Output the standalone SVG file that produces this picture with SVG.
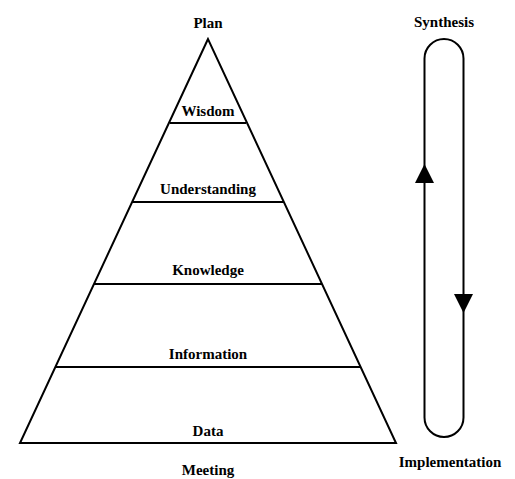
<svg xmlns="http://www.w3.org/2000/svg" width="515" height="479" viewBox="0 0 515 479">
<style>
text{font-family:"Liberation Serif","Times New Roman",serif;font-weight:bold;font-size:15px;fill:#000;text-anchor:middle}
.ln{stroke:#000;stroke-width:2;fill:none}
</style>
<rect width="515" height="479" fill="#fff"/>
<g id="pyramid">
<polygon class="ln" points="208,39 20,443 396,443"/>
</g>
<g id="connectors">
<line class="ln" x1="170" y1="123" x2="246" y2="123"/>
<line class="ln" x1="132" y1="202" x2="284" y2="202"/>
<line class="ln" x1="94" y1="284" x2="322" y2="284"/>
<line class="ln" x1="55" y1="367" x2="361" y2="367"/>
<path id="loop" class="ln" d="M424.5,58.5 A19.5,19.5 0 0 1 463.5,58.5 L463.5,417.5 A19.5,19.5 0 0 1 424.5,417.5 Z"/>
<polygon points="424.5,164 415,183 434,183" fill="#000"/>
<polygon points="463.5,313 454,294 473,294" fill="#000"/>
</g>
<g id="plan"><text x="208" y="28">Plan</text></g>
<g id="wisdom"><text x="208" y="116">Wisdom</text></g>
<g id="understanding"><text x="208" y="194">Understanding</text></g>
<g id="knowledge"><text x="208" y="275">Knowledge</text></g>
<g id="information"><text x="208" y="359">Information</text></g>
<g id="data"><text x="208" y="436">Data</text></g>
<g id="meeting"><text x="208" y="475">Meeting</text></g>
<g id="synthesis"><text x="444" y="27">Synthesis</text></g>
<g id="implementation"><text x="450" y="467">Implementation</text></g>
</svg>
